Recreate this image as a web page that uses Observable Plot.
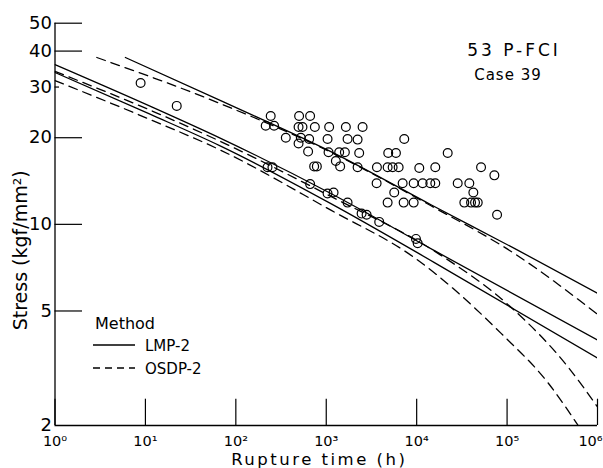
<!DOCTYPE html>
<html><head><meta charset="utf-8">
<script src="https://cdn.jsdelivr.net/npm/d3@7"></script>
<script src="https://cdn.jsdelivr.net/npm/@observablehq/plot@0.6"></script>
<style>
body{margin:0;background:#fff;}
#wrap{position:relative;width:603px;height:468px;font-family:"DejaVu Sans",sans-serif;}
#overlay{position:absolute;left:0;top:0;pointer-events:none;}
</style></head><body><div id="wrap"></div>
<script>
// ---- axis ticks ----
const xTicks = [1, 10, 100, 1000, 1e4, 1e5, 1e6];
const xTickLabels = ["10⁰", "10¹", "10²", "10³", "10⁴", "10⁵", "10⁶"];
const yTicks = [2, 5, 10, 20, 30, 40, 50];
const yLongTicks = [5, 10, 20, 40, 50];
const yShortTicks = [30];

// ---- curves (rupture time h, stress kgf/mm2) ----
const lmpUpperT = [6, 68, 1343, 14400, 132400, 1e6];
const lmpUpperS = [38.0, 26.9, 17.4, 11.7, 8.12, 5.76];
const osdpUpperT = [2.9, 63, 1125, 14400, 119400, 1e6];
const osdpUpperS = [38.0, 26.5, 17.8, 11.6, 7.93, 4.87];
const lmpLow1T = [1, 11.4, 68, 1125, 15550, 1e6];
const lmpLow1S = [35.9, 25.7, 19.9, 12.8, 8.12, 3.96];
const lmpLow2T = [1, 11.4, 68, 1125, 15550, 1e6];
const lmpLow2S = [33.7, 24.1, 18.7, 11.8, 7.38, 3.43];
const osdpLow1T = [1, 11.4, 68, 1125, 17200, 110600, 474000, 1e6];
const osdpLow1S = [34.0, 24.9, 19.4, 12.5, 7.93, 5.15, 3.19, 2.32];
const osdpLow2T = [1, 11.4, 68, 1125, 9330, 85900, 284600, 611000];
const osdpLow2S = [31.6, 23.1, 18.1, 11.2, 7.68, 4.18, 2.81, 2.0];

// ---- test points ----
const pointT = [8.85, 22.2, 243, 214, 265, 501, 663, 494, 546, 748, 1077, 1648, 357, 523, 647, 494, 1034, 1721,
  630, 1060, 1390, 1607, 1277, 1425, 735, 787, 224, 254, 663, 1034, 1205, 1721,
  2523, 2222, 7290, 2314, 4848, 5900, 22040, 2222, 3635, 4774, 5423, 6320, 10690, 16070, 51530, 72330,
  3606, 6998, 9265, 11650, 14150, 16070, 28440, 38230, 5648, 42350, 4774, 7178, 9265, 33660, 39940, 44220, 47370,
  77500, 2460, 2794, 3853, 9824, 10260];
const pointS = [31.0, 25.8, 23.8, 22.0, 22.0, 23.8, 23.8, 21.8, 21.8, 21.8, 21.8, 21.8, 20.0, 20.0, 19.8, 19.1, 19.8, 19.8,
  17.9, 17.8, 17.8, 17.8, 16.6, 15.9, 15.9, 15.9, 15.8, 15.8, 13.8, 12.8, 12.9, 11.9,
  21.8, 19.7, 19.8, 17.7, 17.7, 17.7, 17.7, 15.8, 15.8, 15.8, 15.8, 15.8, 15.7, 15.8, 15.8, 14.8,
  13.9, 13.9, 13.9, 13.9, 13.9, 13.9, 13.9, 13.9, 12.9, 12.9, 11.9, 11.9, 11.9, 11.9, 11.9, 11.9, 11.9,
  10.8, 10.9, 10.8, 10.2, 8.9, 8.6];

const mk = (T, S, name, method) => T.map((t, i) => ({t, s: S[i], name, method}));
const curves = [
  ...mk(lmpUpperT, lmpUpperS, "lu", "LMP-2"),
  ...mk(lmpLow1T, lmpLow1S, "l1", "LMP-2"),
  ...mk(lmpLow2T, lmpLow2S, "l2", "LMP-2"),
  ...mk(osdpUpperT, osdpUpperS, "ou", "OSDP-2"),
  ...mk(osdpLow1T, osdpLow1S, "o1", "OSDP-2"),
  ...mk(osdpLow2T, osdpLow2S, "o2", "OSDP-2")
];
const points = pointT.map((t, i) => ({t, s: pointS[i]}));
const xLabelData = xTicks.map((t, i) => ({t, label: xTickLabels[i]}));

const plot = Plot.plot({
  width: 603, height: 468,
  marginLeft: 54.5, marginRight: 6, marginTop: 22.7, marginBottom: 43,
  style: {fontFamily: "DejaVu Sans, sans-serif", fontSize: "16px", color: "black", background: "white"},
  x: {type: "log", domain: [1, 1e6], axis: null},
  y: {type: "log", domain: [2, 50], axis: null},
  marks: [
    Plot.line(curves.filter(d => d.method === "LMP-2"), {x: "t", y: "s", z: "name", curve: "monotone-x", stroke: "black", strokeWidth: 1.3, clip: true}),
    Plot.line(curves.filter(d => d.method === "OSDP-2"), {x: "t", y: "s", z: "name", curve: "monotone-x", stroke: "black", strokeWidth: 1.3, strokeDasharray: "9,6", clip: true}),
    Plot.dot(points, {x: "t", y: "s", r: 4.4, stroke: "black", strokeWidth: 1.2, fill: "none"}),
    Plot.ruleX([1], {stroke: "black", strokeWidth: 1.3}),
    Plot.ruleY([2], {stroke: "black", strokeWidth: 1.3}),
    Plot.tickX(xTicks, {x: d => d, insetTop: 376, stroke: "black", strokeWidth: 1.2}),
    Plot.tickY(yLongTicks, {y: d => d, insetRight: 515, stroke: "black", strokeWidth: 1.2}),
    Plot.tickY(yShortTicks, {y: d => d, insetRight: 538, stroke: "black", strokeWidth: 1.2}),
    Plot.text(xLabelData.slice(0, 6), {x: "t", text: "label", frameAnchor: "bottom", dy: 16, fontSize: 14.5, lineAnchor: "middle", textAnchor: "middle"}),
    Plot.text(xLabelData.slice(6), {x: "t", text: "label", frameAnchor: "bottom", dy: 16, dx: -7, fontSize: 14.5, lineAnchor: "middle", textAnchor: "middle"}),
    Plot.axisY(yTicks, {tickSize: 0, tickPadding: 3, fontSize: 18, label: null, tickFormat: d => String(d)}),
    Plot.text(["Rupture time (h)"], {text: d => d, frameAnchor: "bottom", dy: 34, dx: -7, fontSize: 16.5, lineAnchor: "middle", textAnchor: "middle"}),
    Plot.text(["Stress (kgf/mm²)"], {text: d => d, frameAnchor: "left", rotate: -90, dx: -34, dy: 26, fontSize: 19, lineAnchor: "middle", textAnchor: "middle"})
  ]
});
const wrap = document.getElementById("wrap");
wrap.appendChild(plot);
d3.select(plot).selectAll("text")
  .filter(function() { return this.textContent === "Rupture time (h)"; })
  .style("letter-spacing", "2.5px");

// overlay: annotation + legend
const ns = "http://www.w3.org/2000/svg";
const ov = document.createElementNS(ns, "svg");
ov.setAttribute("id", "overlay");
ov.setAttribute("width", 603); ov.setAttribute("height", 468);
ov.innerHTML = `
<g font-family="DejaVu Sans, sans-serif" fill="black">
  <text x="514" y="56" font-size="17" text-anchor="middle" letter-spacing="3">53 P-FCI</text>
  <text x="508" y="80" font-size="15" text-anchor="middle" letter-spacing="1">Case 39</text>
  <text x="95" y="329" font-size="16">Method</text>
  <line x1="93" y1="345" x2="135" y2="345" stroke="black" stroke-width="1.3"/>
  <text x="145" y="351" font-size="15">LMP-2</text>
  <line x1="93" y1="368" x2="135" y2="368" stroke="black" stroke-width="1.3" stroke-dasharray="7,5"/>
  <text x="145" y="374" font-size="15">OSDP-2</text>
</g>`;
wrap.appendChild(ov);
</script>
</body></html>
